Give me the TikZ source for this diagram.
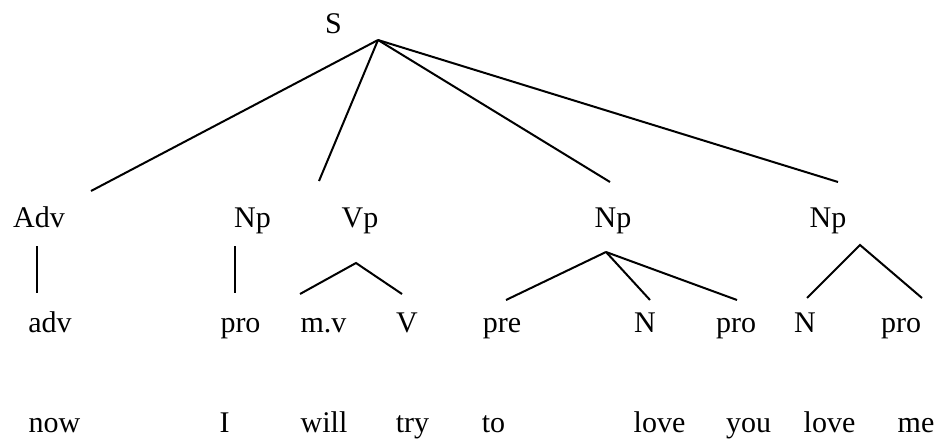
\documentclass[tikz,border=0pt]{standalone}
\usepackage{fontspec}
\setmainfont{Liberation Serif}
\begin{document}
\begin{tikzpicture}[x=1pt,y=-1pt,
  lbl/.style={anchor=base,inner sep=0pt,font=\fontsize{30}{36}\selectfont},
  edge/.style={line width=2pt}]
\useasboundingbox (0,0) rectangle (940,439);
% labels
\node[lbl] (S) at (333.5,33) {S};
\node[lbl] (Adv) at (39,227) {Adv};
\node[lbl] (Np1) at (252.5,227) {Np};
\node[lbl] (Vp) at (360,227) {Vp};
\node[lbl] (Np2) at (613,227) {Np};
\node[lbl] (Np3) at (828,227) {Np};
\node[lbl] (adv) at (50,332) {adv};
\node[lbl] (pro1) at (240.5,332) {pro};
\node[lbl] (mv) at (323.5,332) {m.v};
\node[lbl] (V) at (407,332) {V};
\node[lbl] (pre) at (502,332) {pre};
\node[lbl] (N1) at (645,332) {N};
\node[lbl] (pro2) at (736,332) {pro};
\node[lbl] (N2) at (805,332) {N};
\node[lbl] (pro3) at (901,332) {pro};
\node[lbl] (now) at (54.5,432) {now};
\node[lbl] (I) at (224.5,432) {I};
\node[lbl] (will) at (324,432) {will};
\node[lbl] (try) at (412.5,432) {try};
\node[lbl] (to) at (493.5,432) {to};
\node[lbl] (love1) at (659.5,432) {love};
\node[lbl] (you) at (748.5,432) {you};
\node[lbl] (love2) at (829.5,432) {love};
\node[lbl] (me) at (916,432) {me};
% connector end points
\coordinate (Sb) at (378,40);
\coordinate (Advt) at (91,191);
\coordinate (Vpt) at (319,181);
\coordinate (Np2t) at (610,182);
\coordinate (Np3t) at (838,182);
\coordinate (Advb) at (37,246);
\coordinate (advt) at (37,293);
\coordinate (Np1b) at (235,246);
\coordinate (pro1t) at (235,293);
\coordinate (Vpb) at (356,263);
\coordinate (mvt) at (300,294);
\coordinate (Vt) at (402,294);
\coordinate (Np2b) at (606,252);
\coordinate (pret) at (506,300);
\coordinate (N1t) at (650,300);
\coordinate (pro2t) at (737,300);
\coordinate (Np3b) at (860,245);
\coordinate (N2t) at (807,298);
\coordinate (pro3t) at (922,298);
% connectors
\draw[edge] (Sb) -- (Advt);
\draw[edge] (Sb) -- (Vpt);
\draw[edge] (Sb) -- (Np2t);
\draw[edge] (Sb) -- (Np3t);
\draw[edge] (Advb) -- (advt);
\draw[edge] (Np1b) -- (pro1t);
\draw[edge] (mvt) -- (Vpb) -- (Vt);
\draw[edge] (Np2b) -- (pret);
\draw[edge] (Np2b) -- (N1t);
\draw[edge] (Np2b) -- (pro2t);
\draw[edge] (N2t) -- (Np3b) -- (pro3t);
\end{tikzpicture}
\end{document}
